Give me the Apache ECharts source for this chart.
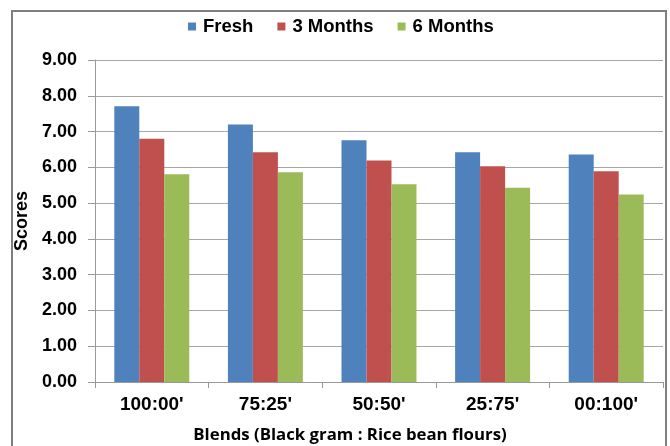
<!DOCTYPE html>
<html>
<head>
<meta charset="utf-8">
<script src="https://cdn.jsdelivr.net/npm/echarts@6/dist/echarts.min.js"></script>
<style>
html,body{margin:0;padding:0;background:#fff;}
#chart{width:670px;height:446px;}
</style>
</head>
<body>
<div id="chart"></div>
<script>
// Blend ratios (Black gram : Rice bean flours)
const blends = ["100:00'", "75:25'", "50:50'", "25:75'", "00:100'"];
// Sensory scores by storage period
const fresh = [7.71, 7.20, 6.76, 6.42, 6.36];
const threeMonths = [6.80, 6.42, 6.19, 6.03, 5.89];
const sixMonths = [5.81, 5.86, 5.53, 5.43, 5.24];
const yTicks = [0, 1, 2, 3, 4, 5, 6, 7, 8, 9];

const chart = echarts.init(document.getElementById('chart'), null, {renderer: 'canvas'});
const bold = {fontFamily: 'Liberation Sans', fontWeight: 'bold', color: '#000'};

chart.setOption({
  animation: false,
  graphic: [{
    type: 'rect',
    shape: {x: 12, y: 11, width: 654, height: 445},
    style: {fill: 'none', stroke: '#7f7f7f', lineWidth: 2},
    z: -1
  }],
  legend: {
    top: 12,
    left: 183,
    itemWidth: 8,
    itemHeight: 8,
    itemGap: 24,
    icon: 'rect',
    textStyle: Object.assign({}, bold, {fontSize: 18.5, padding: [0, 0, 0, 2]}),
    data: ['Fresh', '3 Months', '6 Months']
  },
  grid: {left: 95, right: 7, top: 60, bottom: 64, outerBoundsMode: 'none'},
  xAxis: {
    type: 'category',
    data: blends,
    name: 'Blends (Black gram : Rice bean flours)',
    nameLocation: 'middle',
    nameGap: 45,
    nameTextStyle: {fontFamily: 'Open Sans', fontWeight: 'bold', fontSize: 16.8, color: '#000', padding: [0, 58, 0, 0]},
    axisLine: {lineStyle: {color: '#999', width: 1}},
    axisTick: {show: true, length: 6, lineStyle: {color: '#999'}},
    axisLabel: Object.assign({}, bold, {fontSize: 19, margin: 13})
  },
  yAxis: {
    type: 'value',
    min: 0,
    max: 9,
    interval: 1,
    name: 'Scores',
    nameLocation: 'middle',
    nameGap: 61,
    nameTextStyle: {fontFamily: 'Liberation Sans', fontWeight: 'bold', fontSize: 18, color: '#000'},
    axisLine: {show: true, lineStyle: {color: '#999'}},
    axisTick: {show: true, length: 7, lineStyle: {color: '#999'}},
    axisLabel: Object.assign({}, bold, {fontSize: 18, margin: 18, formatter: v => yTicks.includes(v) ? v.toFixed(2) : ''}),
    splitLine: {lineStyle: {color: '#a6a6a6', width: 1}}
  },
  series: [
    {name: 'Fresh', type: 'bar', data: fresh, barGap: '0%', barCategoryGap: '34%', itemStyle: {color: '#4f81bd'}},
    {name: '3 Months', type: 'bar', data: threeMonths, barGap: '0%', barCategoryGap: '34%', itemStyle: {color: '#c0504d'}},
    {name: '6 Months', type: 'bar', data: sixMonths, barGap: '0%', barCategoryGap: '34%', itemStyle: {color: '#9bbb59'}}
  ]
});
</script>
</body>
</html>
